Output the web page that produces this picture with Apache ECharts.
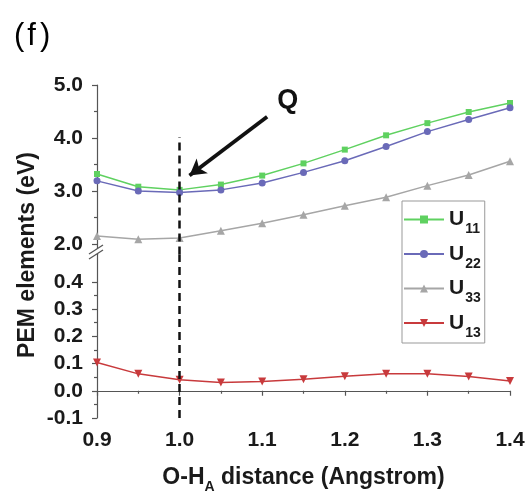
<!DOCTYPE html>
<html>
<head>
<meta charset="utf-8">
<script src="https://cdn.jsdelivr.net/npm/echarts@6/dist/echarts.min.js"></script>
<style>
  html, body { margin: 0; padding: 0; background: #fff; }
  #chart { width: 530px; height: 495px; }
</style>
</head>
<body>
<div id="chart"></div>
<script>
// O-H_A distance (Angstrom)
const xValues = [0.9, 0.95, 1.0, 1.05, 1.1, 1.15, 1.2, 1.25, 1.3, 1.35, 1.4];
// PEM diagonal elements (eV), upper panel
const u11 = [3.32, 3.08, 3.02, 3.12, 3.29, 3.52, 3.78, 4.05, 4.28, 4.49, 4.66];
const u22 = [3.19, 3.00, 2.97, 3.02, 3.15, 3.35, 3.57, 3.84, 4.12, 4.35, 4.57];
const u33 = [2.15, 2.09, 2.11, 2.25, 2.39, 2.55, 2.72, 2.88, 3.10, 3.30, 3.56];
// off-diagonal coupling (eV), lower panel
const u13 = [0.104, 0.062, 0.040, 0.030, 0.034, 0.042, 0.053, 0.062, 0.062, 0.052, 0.036];

// axis tick values
const upperMajor = [2, 3, 4, 5];
const upperMinor = [2.5, 3.5, 4.5];
const lowerMajor = [-0.1, 0.0, 0.1, 0.2, 0.3, 0.4];
const lowerMinor = [-0.05, 0.05, 0.15, 0.25, 0.35];

// geometry marker Q
const qDistance = 1.0;

const FONT = '"Liberation Sans", Arial, sans-serif';
const AXIS_COLOR = '#555';
const TEXT_COLOR = '#1a1a1a';

const pairs = ys => xValues.map((x, i) => [x, ys[i]]);

const chart = echarts.init(document.getElementById('chart'), null, { renderer: 'canvas' });

const upperTop = 85, splitY = 254.5, axisY = 420;
const gridLeft = 97, gridRight = 20;

const yMain = (gridIndex, min, max, major) => ({
  type: 'value', gridIndex, min, max, position: 'left',
  splitLine: { show: false },
  axisLine: { show: true, lineStyle: { color: AXIS_COLOR, width: 1.2 } },
  axisTick: { show: true, length: 5, customValues: major, lineStyle: { color: AXIS_COLOR, width: 1.2 } },
  axisLabel: {
    customValues: major, margin: 14, color: TEXT_COLOR,
    fontFamily: FONT, fontSize: 21, fontWeight: 'bold',
    formatter: v => v.toFixed(1)
  }
});
const yMinor = (gridIndex, min, max, minor) => ({
  type: 'value', gridIndex, min, max, position: 'left',
  splitLine: { show: false },
  axisLine: { show: false },
  axisTick: { show: true, length: 3, customValues: minor, lineStyle: { color: AXIS_COLOR, width: 1.2 } },
  axisLabel: { show: false }
});

const dashStyle = { color: '#111', type: [8, 5], width: 2.5 };

const option = {
  backgroundColor: '#fff',
  animation: false,
  grid: [
    { left: gridLeft, right: gridRight, top: upperTop, height: splitY - upperTop },
    { left: gridLeft, right: gridRight, top: splitY, height: axisY - splitY }
  ],
  xAxis: [
    { type: 'value', gridIndex: 0, min: 0.9, max: 1.4, show: false },
    {
      type: 'value', gridIndex: 1, min: 0.9, max: 1.4, interval: 0.1,
      splitLine: { show: false },
      axisLine: { show: true, lineStyle: { color: AXIS_COLOR, width: 1.2 } },
      axisTick: { show: true, length: 5, lineStyle: { color: AXIS_COLOR, width: 1.2 } },
      minorTick: { show: true, splitNumber: 2, length: 3, lineStyle: { color: AXIS_COLOR, width: 1.2 } },
      axisLabel: {
        margin: 12, color: TEXT_COLOR, fontFamily: FONT, fontSize: 21, fontWeight: 'bold',
        formatter: v => v.toFixed(1)
      },
      name: '{n|O-H}{s|A}{n| distance (Angstrom)}',
      nameLocation: 'middle',
      nameGap: 46,
      nameTextStyle: {
        rich: {
          n: { fontFamily: FONT, fontSize: 23, fontWeight: 'bold', color: TEXT_COLOR, lineHeight: 28 },
          s: { fontFamily: FONT, fontSize: 14, fontWeight: 'bold', color: TEXT_COLOR, lineHeight: 14, verticalAlign: 'bottom', padding: [0, 0, -2, 0] }
        }
      }
    }
  ],
  yAxis: [
    yMain(0, 1.8, 5.0, upperMajor),
    yMinor(0, 1.8, 5.0, upperMinor),
    yMain(1, -0.1, 0.5, lowerMajor),
    yMinor(1, -0.1, 0.5, lowerMinor)
  ],
  legend: {
    orient: 'vertical',
    left: 402, top: 201,
    padding: [8, 4, 3, 1],
    itemWidth: 40, itemHeight: 10, itemGap: 7,
    borderColor: '#999', borderWidth: 1,
    data: ['U11', 'U22', 'U33', 'U13'],
    formatter: name => '{u|U}{s|' + name.slice(1) + '}',
    textStyle: {
      rich: {
        u: { fontFamily: FONT, fontSize: 21, fontWeight: 'bold', color: TEXT_COLOR, lineHeight: 26 },
        s: { fontFamily: FONT, fontSize: 14, fontWeight: 'bold', color: TEXT_COLOR, lineHeight: 14, verticalAlign: 'bottom', padding: [0, 0, -4, 1] }
      }
    }
  },
  graphic: [
    {
      type: 'text', left: 14, top: 21,
      style: {
        text: '{p|(}{f|f}{p|)}',
        rich: {
          p: { fontFamily: FONT, fontSize: 31, color: '#111' },
          f: { fontFamily: FONT, fontSize: 31, color: '#111', padding: [0, 4, 0, 3] }
        }
      }
    },
    {
      type: 'text', x: 28, y: 255, rotation: Math.PI / 2,
      style: {
        text: 'PEM elements (eV)', font: 'bold 23px ' + FONT, fill: TEXT_COLOR,
        align: 'center', verticalAlign: 'middle'
      }
    },
    // axis break on the left axis
    {
      type: 'polygon', z: 100,
      shape: { points: [[89, 254], [103, 245], [103, 250], [89, 259]] },
      style: { fill: '#fff' }
    },
    {
      type: 'line', z: 101,
      shape: { x1: 89, y1: 254, x2: 103, y2: 245 },
      style: { stroke: AXIS_COLOR, lineWidth: 1.3 }
    },
    {
      type: 'line', z: 101,
      shape: { x1: 89, y1: 259, x2: 103, y2: 250 },
      style: { stroke: AXIS_COLOR, lineWidth: 1.3 }
    }
  ],
  series: [
    {
      name: 'U11', type: 'line', xAxisIndex: 0, yAxisIndex: 0,
      data: pairs(u11),
      symbol: 'rect', symbolSize: 6,
      itemStyle: { color: '#5fd160' },
      lineStyle: { width: 1.5, color: '#5fd160' },
      markLine: {
        silent: true, label: { show: false },
        data: [
          [
            { coord: [1.106, 4.40], symbol: 'none' },
            { coord: [1.012, 3.29], symbol: 'arrow', symbolSize: [14, 16] }
          ]
        ],
        lineStyle: { color: '#111', type: 'solid', width: 3.8 }
      },
      markPoint: {
        silent: true,
        data: [{ coord: [1.131, 4.70], symbol: 'circle', symbolSize: 0 }],
        label: {
          show: true, position: 'inside', formatter: 'Q',
          fontFamily: FONT, fontSize: 27, fontWeight: 'bold', color: '#111'
        }
      }
    },
    {
      name: 'U22', type: 'line', xAxisIndex: 0, yAxisIndex: 0,
      data: pairs(u22),
      symbol: 'circle', symbolSize: 7,
      itemStyle: { color: '#6a6ab8' },
      lineStyle: { width: 1.5, color: '#6a6ab8' },
      markLine: {
        silent: true, label: { show: false }, symbol: 'none',
        data: [[{ coord: [qDistance, 1.8] }, { coord: [qDistance, 4.02] }]],
        lineStyle: dashStyle
      }
    },
    {
      name: 'U33', type: 'line', xAxisIndex: 0, yAxisIndex: 0,
      data: pairs(u33),
      symbol: 'triangle', symbolSize: 8,
      itemStyle: { color: '#a6a6a6' },
      lineStyle: { width: 1.5, color: '#a6a6a6' }
    },
    {
      name: 'U13', type: 'line', xAxisIndex: 1, yAxisIndex: 2,
      data: pairs(u13),
      symbol: 'triangle', symbolRotate: 180, symbolSize: 8,
      itemStyle: { color: '#c83a3c' },
      lineStyle: { width: 1.5, color: '#c83a3c' },
      markLine: {
        silent: true, label: { show: false }, symbol: 'none',
        data: [[{ coord: [qDistance, -0.1] }, { coord: [qDistance, 0.5] }]],
        lineStyle: dashStyle
      }
    }
  ]
};

chart.setOption(option);
</script>
</body>
</html>
